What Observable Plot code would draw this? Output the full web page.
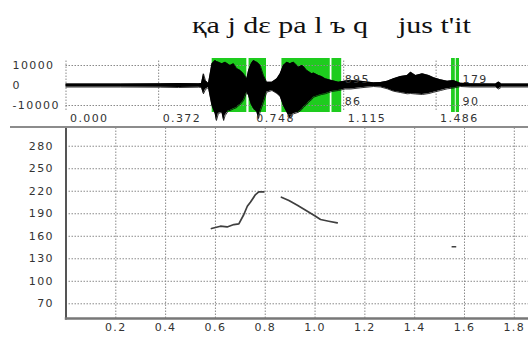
<!DOCTYPE html>
<html><head><meta charset="utf-8">
<script src="https://cdn.jsdelivr.net/npm/d3@7"></script>
<script src="https://cdn.jsdelivr.net/npm/@observablehq/plot@0.6"></script>
<style>
body{margin:0;background:#fff;width:528px;height:338px;overflow:hidden;position:relative}
#title{position:absolute;left:192px;top:13px;font:24px/24px "Liberation Serif",serif;white-space:pre;color:#111;transform:scaleX(1.25);transform-origin:0 0}
#wave{position:absolute;left:0;top:50px}
#pitch{position:absolute;left:0;top:127px}
#sep{position:absolute;left:10px;top:126px;width:518px;height:2px;background:#8c8c8c}
svg text{letter-spacing:1.4px}
</style></head><body>
<div id="title"></div>
<div id="wave"></div><div id="pitch"></div><div id="sep"></div>
<script>
const titleText = "қa j dɛ pa l ъ q    jus t'it";

// waveform envelope (seconds, upper and lower amplitude)
const waveT  = [0,0.219,0.380,0.452,0.532,0.544,0.552,0.560,0.572,0.586,0.599,0.604,0.612,0.626,0.633,0.639,0.653,0.659,0.673,0.686,0.693,0.700,0.713,0.726,0.733,0.744,0.753,0.760,0.766,0.773,0.780,0.793,0.806,0.827,0.847,0.860,0.873,0.887,0.900,0.906,0.914,0.934,0.947,0.954,0.967,0.974,0.987,0.994,1.014,1.026,1.041,1.067,1.094,1.121,1.143,1.183,1.235,1.263,1.290,1.315,1.343,1.370,1.384,1.404,1.431,1.457,1.477,1.504,1.531,1.556,1.584,1.624,1.725,1.737,1.749,1.857];
const waveHi = [750,750,850,1000,850,1000,5850,2500,1000,10850,12500,12000,11650,10850,11250,11650,10500,10000,10850,8350,8000,7500,5850,3350,7500,10850,12500,12000,11650,11000,10000,5000,1650,1650,3350,5850,10000,11650,10850,11250,11650,9150,10000,9500,7500,7000,5850,6250,5000,4500,3350,2500,1650,2250,2500,2150,1350,1500,2150,3350,4500,5000,6650,5000,5850,5000,3850,2850,2150,2500,1150,850,750,1750,750,750];
const waveLo = [-750,-750,-850,-1000,-850,-1000,-4150,-2000,-1000,-10000,-14150,-17500,-14000,-13350,-17500,-15000,-12500,-12500,-11650,-11000,-10000,-9500,-7500,-3350,-5000,-9500,-11500,-12500,-13000,-16500,-13000,-8350,-3350,-2500,-4000,-5500,-10000,-13350,-16500,-15000,-14150,-13350,-12000,-10850,-9500,-8350,-7000,-5850,-5000,-4500,-4150,-3000,-2500,-1750,-1750,-1150,-500,-750,-1650,-2850,-3500,-4150,-4000,-4250,-4500,-4000,-3350,-2500,-1650,-1250,-500,-750,-750,-1750,-750,-750];

// highlighted (green) segments
const segStart = [0.587,0.735,0.867,1.068,1.548,1.567];
const segEnd   = [0.726,0.805,1.061,1.107,1.563,1.580];

const waveTicks = [0, 0.372, 0.748, 1.115, 1.486];
const ampTicks = [10000, 0, -10000];
const ampGrid = [10000, -10000];
const annotT = [1.107, 1.580];
const annotHi = ["895", "179"];
const annotLo = ["86", "90"];

// pitch contour
const p1T = [0.584,0.620,0.647,0.674,0.694,0.714,0.728,0.741,0.761,0.774,0.794];
const p1Hz = [170.3,173.4,172.4,175.6,176.4,189,200,205.7,215.6,219.1,219.1];
const p2T = [0.865,0.895,0.929,0.969,1.002,1.022,1.055,1.089];
const p2Hz = [212,207.6,201.3,193.4,186.7,182.3,180,177.8];
const p3T = [1.551,1.564];
const p3Hz = [146,146];

const timeTicks = [0.2,0.4,0.6,0.8,1,1.2,1.4,1.6,1.8];
const hzTicks = [70,100,130,160,190,220,250,280];

document.getElementById("title").textContent = titleText;

const xDomain = [0, 1.857];
const font = {fontFamily:"'DejaVu Sans', sans-serif", fontSize:"11px", color:"#333", background:"transparent", overflow:"visible"};
const dots = {stroke:"#8a8a8a", strokeWidth:1, strokeDasharray:"1.5,1.5"};

const wave = waveT.map((t,i)=>({t, hi:waveHi[i], lo:waveLo[i]}));
const segs = segStart.map((s,i)=>({s, e:segEnd[i]}));
const annots = annotT.map((t,i)=>({t, hi:annotHi[i], lo:annotLo[i]}));

const wavePlot = Plot.plot({
  width:528, height:78, marginLeft:65.5, marginRight:0, marginTop:8, marginBottom:16,
  style:font,
  x:{domain:xDomain, label:null},
  y:{domain:[-13500,13500], label:null},
  marks:[
    Plot.rect(segs, {x1:"s", x2:"e", fill:"#1ecc1e"}),
    Plot.ruleY(ampGrid, {...dots}),
    Plot.ruleX(waveTicks, {...dots, y1:-12500, y2:12500}),
    Plot.areaY(wave, {x:"t", y1:"lo", y2:"hi", fill:"#000"}),
    Plot.line(wave, {x:"t", y:"hi", stroke:"#000", strokeWidth:0.8}),
    Plot.line(wave, {x:"t", y:"lo", stroke:"#000", strokeWidth:0.8}),
    Plot.text(annots, {x:"t", text:"hi", frameAnchor:"top", dy:17, dx:3, textAnchor:"start", fill:"#333"}),
    Plot.text(annots, {x:"t", text:"lo", frameAnchor:"bottom", dy:-8, dx:3, textAnchor:"start", fill:"#333"}),
    Plot.axisY(ampTicks, {tickSize:0, tickPadding:0, textAnchor:"start", dx:-53.5, tickFormat:d=>String(d), fill:"#333", label:null}),
    Plot.axisX(waveTicks, {tickSize:0, tickPadding:2, textAnchor:"start", dx:4, tickFormat:d3.format(".3f"), fill:"#333", label:null})
  ]
});
document.getElementById("wave").append(wavePlot);

const pitch = [
  ...p1T.map((t,i)=>({t, hz:p1Hz[i], s:1})),
  ...p2T.map((t,i)=>({t, hz:p2Hz[i], s:2})),
  ...p3T.map((t,i)=>({t, hz:p3Hz[i], s:3}))
];

const pitchPlot = Plot.plot({
  width:528, height:211, marginLeft:65.5, marginRight:0, marginTop:0.5, marginBottom:20,
  style:font,
  x:{domain:xDomain, label:null},
  y:{domain:[50.4,304.3], label:null},
  marks:[
    Plot.ruleX(timeTicks, {...dots}),
    Plot.ruleY(hzTicks, {...dots}),
    Plot.line(pitch, {x:"t", y:"hz", z:"s", stroke:"#3f3f3f", strokeWidth:1.7}),
    Plot.axisY(hzTicks, {tickSize:0, tickPadding:12, fill:"#333", label:null}),
    Plot.axisX(timeTicks, {tickSize:0, tickPadding:5, fill:"#333", label:null}),
    Plot.frame({anchor:"left", stroke:"#555", strokeWidth:2}),
    Plot.frame({anchor:"bottom", stroke:"#777", strokeWidth:2.5})
  ]
});
document.getElementById("pitch").append(pitchPlot);
</script>
</body></html>
